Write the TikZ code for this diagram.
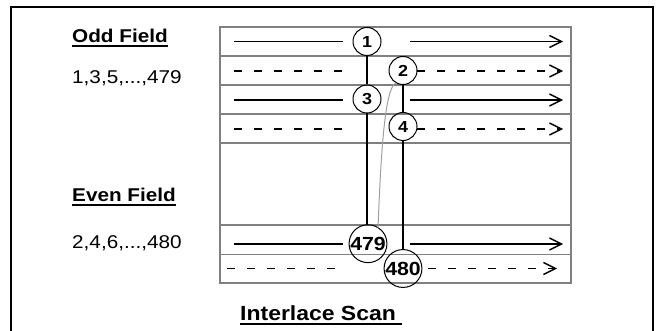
\documentclass[tikz,border=0pt]{standalone}
\usepackage{fontspec}
\setmainfont{Liberation Sans}[FakeStretch=1.12]
\newcommand{\ultext}[1]{\setbox0\hbox{#1}\leavevmode\rlap{\rule[-4pt]{\wd0}{2pt}}\box0}
\usetikzlibrary{arrows.meta}
\tikzset{
	rowline/.style={draw=gray, line width=1.6pt},
	scan/.style={draw, line width=1.6pt},
	dscan/.style={scan, dash pattern=on 8pt off 12pt},
	tip/.style={-{Straight Barb[length=12pt,width=12pt,line width=1.4pt]}},
	lineno/.style={circle, draw, line width=1pt, minimum size=28pt, inner sep=0pt, font=\fontsize{16}{16}\selectfont\bfseries},
	bigno/.style={lineno, font=\fontsize{19}{19}\selectfont\bfseries},
	drop/.style={draw, line width=2.3pt},
	retrace/.style={draw=gray!75, line width=1pt},
	lbl/.style={anchor=base west, inner sep=0pt, font=\fontsize{18.5}{20}\selectfont}
}

\begin{document}
\begin{tikzpicture}[x=1pt,y=-1pt]
	\useasboundingbox (0,0) rectangle (660,331);
	\draw[line width=2pt] (11,331) -- (11,7) -- (653,7) -- (653,331);
	% raster rows
	\draw[rowline] (220,27) rectangle (571,283);
	\foreach \y in {56,85,114,143,225,254.5} \draw[rowline] (220,\y) -- (571,\y);
	% line numbers
	\node[lineno] (c1) at (367,41.5) {1};
	\node[lineno] (c2) at (403,70.5) {2};
	\node[lineno] (c3) at (367,99) {3};
	\node[lineno] (c4) at (403,126.5) {4};
	\node[bigno] (c479) at (368,243.7) {479};
	\node[bigno] (c480) at (403,268.5) {480};
	% scan lines
	\foreach \y/\s in {41.5/scan,71/dscan,100/scan,129/dscan,244/scan} \draw[\s] (234,\y) -- (343,\y);
	\foreach \y/\s/\x in {41.5/scan/410,71/dscan/417,100/scan/410,129/dscan/417,244/scan/410}
		\draw[\s,tip] (\x,\y) -- (563,\y);
	\draw[dscan] (227,268.5) -- (337,268.5);
	\draw[dscan,tip] (428,268.5) -- (557,268.5);
	% vertical retrace
	\coordinate (d3) at (367,225);
	\coordinate (r479) at (378,228);
	\draw[drop] (c1.south) -- (c3.north);
	\draw[drop] (c3.south) -- (d3);
	\draw[drop] (c2.south) -- (c4.north);
	\draw[drop] (c4.south) -- (c480.north);
	\draw[retrace] (c2.240) .. controls (385,88) and (381,150) .. (r479);
	% labels
	\node[lbl] (odd) at (72,42.7) {\bfseries\ultext{Odd Field}};
	\node[lbl] (oddnums) at (72,83.5) {1,3,5,...,479};
	\node[lbl] (even) at (72,201.5) {\bfseries\ultext{Even Field}};
	\node[lbl] (evennums) at (72,248) {2,4,6,...,480};
	\node[lbl, font=\fontsize{20.5}{22}\selectfont\bfseries] (title) at (240,320.7) {\ultext{Interlace Scan\ }};
\end{tikzpicture}
\end{document}
